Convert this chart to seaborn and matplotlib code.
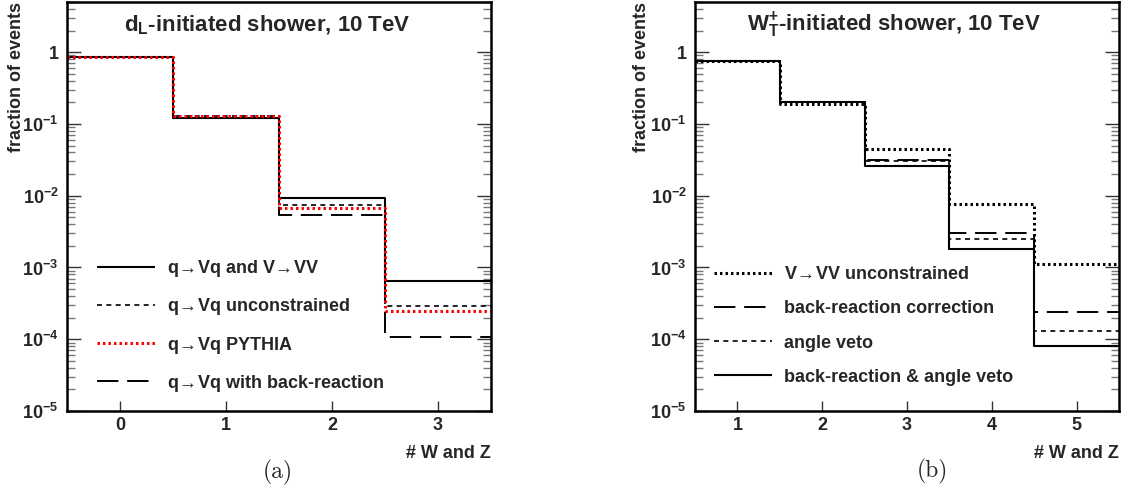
import numpy as np
import pandas as pd
import matplotlib
matplotlib.use("Agg")
import matplotlib.pyplot as plt
from matplotlib.ticker import LogLocator, NullFormatter
import seaborn as sns

# ---------------- data ----------------
bins_a = [0, 1, 2, 3]
a_full = [0.87, 0.12, 0.0094, 6.5e-4]        # q->Vq and V->VV
a_unconstr = [0.87, 0.13, 0.0074, 2.9e-4]    # q->Vq unconstrained
a_pythia = [0.87, 0.13, 0.0067, 2.5e-4]      # q->Vq PYTHIA
a_backreac = [0.87, 0.12, 0.0054, 1.06e-4]   # q->Vq with back-reaction

bins_b = [1, 2, 3, 4, 5]
b_vvunc = [0.75, 0.19, 0.045, 0.0076, 1.12e-3]   # V->VV unconstrained
b_backcorr = [0.76, 0.20, 0.031, 0.0030, 2.36e-4]  # back-reaction correction
b_angle = [0.76, 0.20, 0.030, 0.0025, 1.31e-4]   # angle veto
b_both = [0.76, 0.20, 0.026, 0.0018, 8.1e-5]     # back-reaction & angle veto

ARR = r"$\!\rightarrow\!$"
labels_a = ["q" + ARR + "Vq and V" + ARR + "VV", "q" + ARR + "Vq unconstrained",
            "q" + ARR + "Vq PYTHIA", "q" + ARR + "Vq with back-reaction"]
labels_b = ["V" + ARR + "VV unconstrained", "back-reaction correction", "angle veto",
            "back-reaction & angle veto"]

# ---------------- style ----------------
sns.set_theme(style="ticks")
plt.rcParams["font.family"] = ["Liberation Sans", "DejaVu Sans"]
plt.rcParams["font.weight"] = "bold"
plt.rcParams["mathtext.fontset"] = "custom"
plt.rcParams["mathtext.rm"] = "Liberation Sans:bold"
plt.rcParams["mathtext.bf"] = "Liberation Sans:bold"
plt.rcParams["mathtext.it"] = "Liberation Sans:bold"
plt.rcParams["mathtext.fallback"] = "cm"

SOLID = ((0, ()), 1.5)
SHORT = ((0, (3.0, 2.6)), 1.2)
LONG = ((0, (11, 4.5)), 1.4)
DOT = ((0, (0.8, 1.0)), 2.2)
FS = 13

fig = plt.figure(figsize=(11.24, 4.93), dpi=100)
axA = fig.add_axes([67 / 1124, 1 - 411 / 493, 424 / 1124, 409 / 493])
axB = fig.add_axes([695 / 1124, 1 - 411 / 493, 424 / 1124, 409 / 493])


def step_df(centers, vals):
    edges = [c - 0.5 for c in centers] + [centers[-1] + 0.5]
    ys = list(vals) + [vals[-1]]
    return pd.DataFrame({"x": edges, "y": ys})


def draw(ax, centers, series, labels, styles, colors, order):
    handles = {}
    for i in order:
        df = step_df(centers, series[i])
        ls, lw = styles[i]
        sns.lineplot(data=df, x="x", y="y", ax=ax, drawstyle="steps-post",
                     estimator=None, sort=False, color=colors[i],
                     linestyle=ls, linewidth=lw, label=labels[i])
        handles[i] = ax.get_lines()[-1]
    return [handles[i] for i in range(len(labels))]


def style_axes(ax, xlim, xticks):
    ax.set_yscale("log")
    ax.set_xlim(*xlim)
    ax.set_ylim(1e-5, 5)
    ax.set_xticks(xticks)
    ax.set_xticklabels([str(t) for t in xticks], fontsize=FS, fontweight="bold")
    yt = [1e-5, 1e-4, 1e-3, 1e-2, 1e-1, 1]
    ax.set_yticks(yt)
    ax.set_yticklabels([r"$\mathbf{10^{%d}}$" % e for e in range(-5, 0)] + ["1"],
                       fontsize=FS, fontweight="bold")
    ax.yaxis.set_minor_locator(LogLocator(base=10, subs=np.arange(2, 10), numticks=20))
    ax.yaxis.set_minor_formatter(NullFormatter())
    ax.tick_params(axis="y", which="major", direction="in", length=10, width=1.0,
                   color="#333333", left=True, right=True, pad=6)
    ax.tick_params(axis="y", which="minor", direction="in", length=5.5, width=1.0,
                   color="#777777", left=True, right=True)
    ax.tick_params(axis="x", which="major", direction="in", length=7.5, width=1.0,
                   color="#333333", bottom=True, top=False, pad=4)
    ax.tick_params(axis="x", which="minor", bottom=False, top=False)
    for s in ax.spines.values():
        s.set_linewidth(1.8)
        s.set_color("black")
        s.set_visible(True)
    ax.set_xlabel("")
    ax.set_ylabel("")
    ax.grid(False)


# panel (a)
series_a = [a_full, a_unconstr, a_pythia, a_backreac]
styles_a = [SOLID, SHORT, DOT, LONG]
colors_a = ["black", "black", "red", "black"]
hA = draw(axA, bins_a, series_a, labels_a, styles_a, colors_a, order=[0, 1, 3, 2])
style_axes(axA, (-0.5, 3.5), bins_a)

# panel (b)
series_b = [b_vvunc, b_backcorr, b_angle, b_both]
styles_b = [DOT, LONG, SHORT, SOLID]
colors_b = ["black", "black", "black", "black"]
hB = draw(axB, bins_b, series_b, labels_b, styles_b, colors_b, order=[3, 2, 1, 0])
style_axes(axB, (0.5, 5.5), bins_b)

for ax, h, lab, x0 in [(axA, hA, labels_a, (97 - 67) / 424),
                       (axB, hB, labels_b, (714 - 695) / 424)]:
    ax.legend(h, lab, loc="center left", bbox_to_anchor=(x0, (411 - 326) / 409),
              frameon=False, prop={"weight": "bold", "size": FS},
              handlelength=3.2, handletextpad=0.65, labelspacing=0.95,
              borderpad=0, borderaxespad=0)

# titles inside
axA.text(0.472, 0.944, r"$\mathbf{d_L}$-initiated shower, 10 TeV", transform=axA.transAxes,
         ha="center", va="center", fontsize=16, fontweight="bold")
axB.text(0.47, 0.944, r"$\mathbf{W^{+}_{T}}$-initiated shower, 10 TeV", transform=axB.transAxes,
         ha="center", va="center", fontsize=16, fontweight="bold")

# axis titles
for ax, xf in [(axA, (16.5 - 67) / 424), (axB, (641 - 695) / 424)]:
    ax.text(xf, 1.0, "fraction of events", transform=ax.transAxes, rotation=90,
            ha="center", va="top", fontsize=FS, fontweight="bold")
    ax.text(1.0, (411 - 453) / 409, "# W and Z", transform=ax.transAxes,
            ha="right", va="center", fontsize=FS, fontweight="bold")

# captions
fig.text(278 / 1124, 1 - 472 / 493, "(a)", ha="center", va="center",
         fontsize=17, family="cmr10", fontweight="normal")
fig.text(932 / 1124, 1 - 471 / 493, "(b)", ha="center", va="center",
         fontsize=17, family="cmr10", fontweight="normal")

fig.savefig("out.png", dpi=100)
